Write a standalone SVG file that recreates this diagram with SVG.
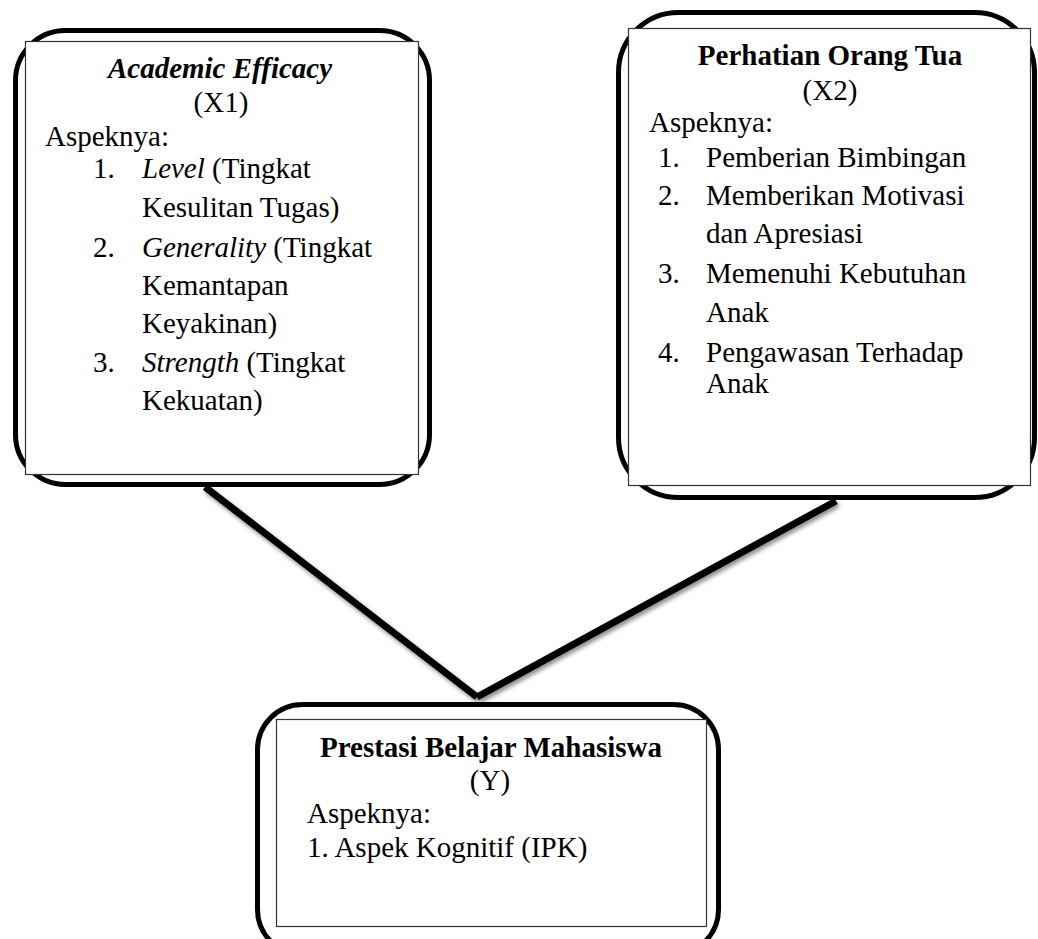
<svg xmlns="http://www.w3.org/2000/svg" width="1038" height="939" viewBox="0 0 1038 939">
<defs>
<style>
text{font-family:"Liberation Serif","Times New Roman",serif;font-size:29px;fill:#000}
.b{font-weight:bold}
.i{font-style:italic}
.c{text-anchor:middle}
.outer{fill:none;stroke:#000;stroke-width:5}
.inner{fill:#fff;stroke:#333;stroke-width:1.2}
.conn{stroke:#000;stroke-width:7;fill:none;stroke-linecap:butt}
</style>
<filter id="sh" x="-10%" y="-10%" width="130%" height="130%">
<feDropShadow dx="2" dy="3" stdDeviation="2" flood-color="#000" flood-opacity="0.45"/>
</filter>
</defs>
<rect width="1038" height="939" fill="#fff"/>
<g id="connectors" filter="url(#sh)">
<line class="conn" x1="205" y1="487" x2="477" y2="697"/>
<line class="conn" x1="836" y1="501" x2="477" y2="697"/>
</g>
<g id="node-x1">
<rect class="outer" x="15.5" y="30.5" width="414" height="454" rx="50"/>
<rect class="inner" x="25.5" y="41.5" width="393" height="433"/>
<text class="b i c" x="220" y="78">Academic Efficacy</text>
<text class="c" x="221" y="112">(X1)</text>
<text x="45" y="146">Aspeknya:</text>
<text x="93" y="178">1.</text>
<text x="142" y="178"><tspan class="i">Level</tspan> (Tingkat</text>
<text x="142" y="217">Kesulitan Tugas)</text>
<text x="93" y="257">2.</text>
<text x="142" y="257"><tspan class="i">Generality</tspan> (Tingkat</text>
<text x="142" y="295">Kemantapan</text>
<text x="142" y="333">Keyakinan)</text>
<text x="93" y="372">3.</text>
<text x="142" y="372"><tspan class="i">Strength</tspan> (Tingkat</text>
<text x="142" y="410">Kekuatan)</text>
</g>
<g id="node-x2">
<rect class="outer" x="618.5" y="12.5" width="416" height="485" rx="60"/>
<rect class="inner" x="628.5" y="28.5" width="402" height="457"/>
<text class="b c" x="830" y="65">Perhatian Orang Tua</text>
<text class="c" x="830" y="100">(X2)</text>
<text x="649" y="132">Aspeknya:</text>
<text x="658" y="167">1.</text>
<text x="706" y="167">Pemberian Bimbingan</text>
<text x="658" y="205">2.</text>
<text x="706" y="205">Memberikan Motivasi</text>
<text x="706" y="243">dan Apresiasi</text>
<text x="658" y="283">3.</text>
<text x="706" y="283">Memenuhi Kebutuhan</text>
<text x="706" y="322">Anak</text>
<text x="658" y="362">4.</text>
<text x="706" y="362">Pengawasan Terhadap</text>
<text x="706" y="393">Anak</text>
</g>
<g id="node-y">
<rect class="outer" x="257.5" y="704.5" width="461" height="250" rx="45"/>
<rect class="inner" x="276.5" y="719.5" width="430" height="207"/>
<text class="b c" x="491" y="757">Prestasi Belajar Mahasiswa</text>
<text class="c" x="490" y="790">(Y)</text>
<text x="307" y="823">Aspeknya:</text>
<text x="307" y="857">1. Aspek Kognitif (IPK)</text>
</g>
</svg>
